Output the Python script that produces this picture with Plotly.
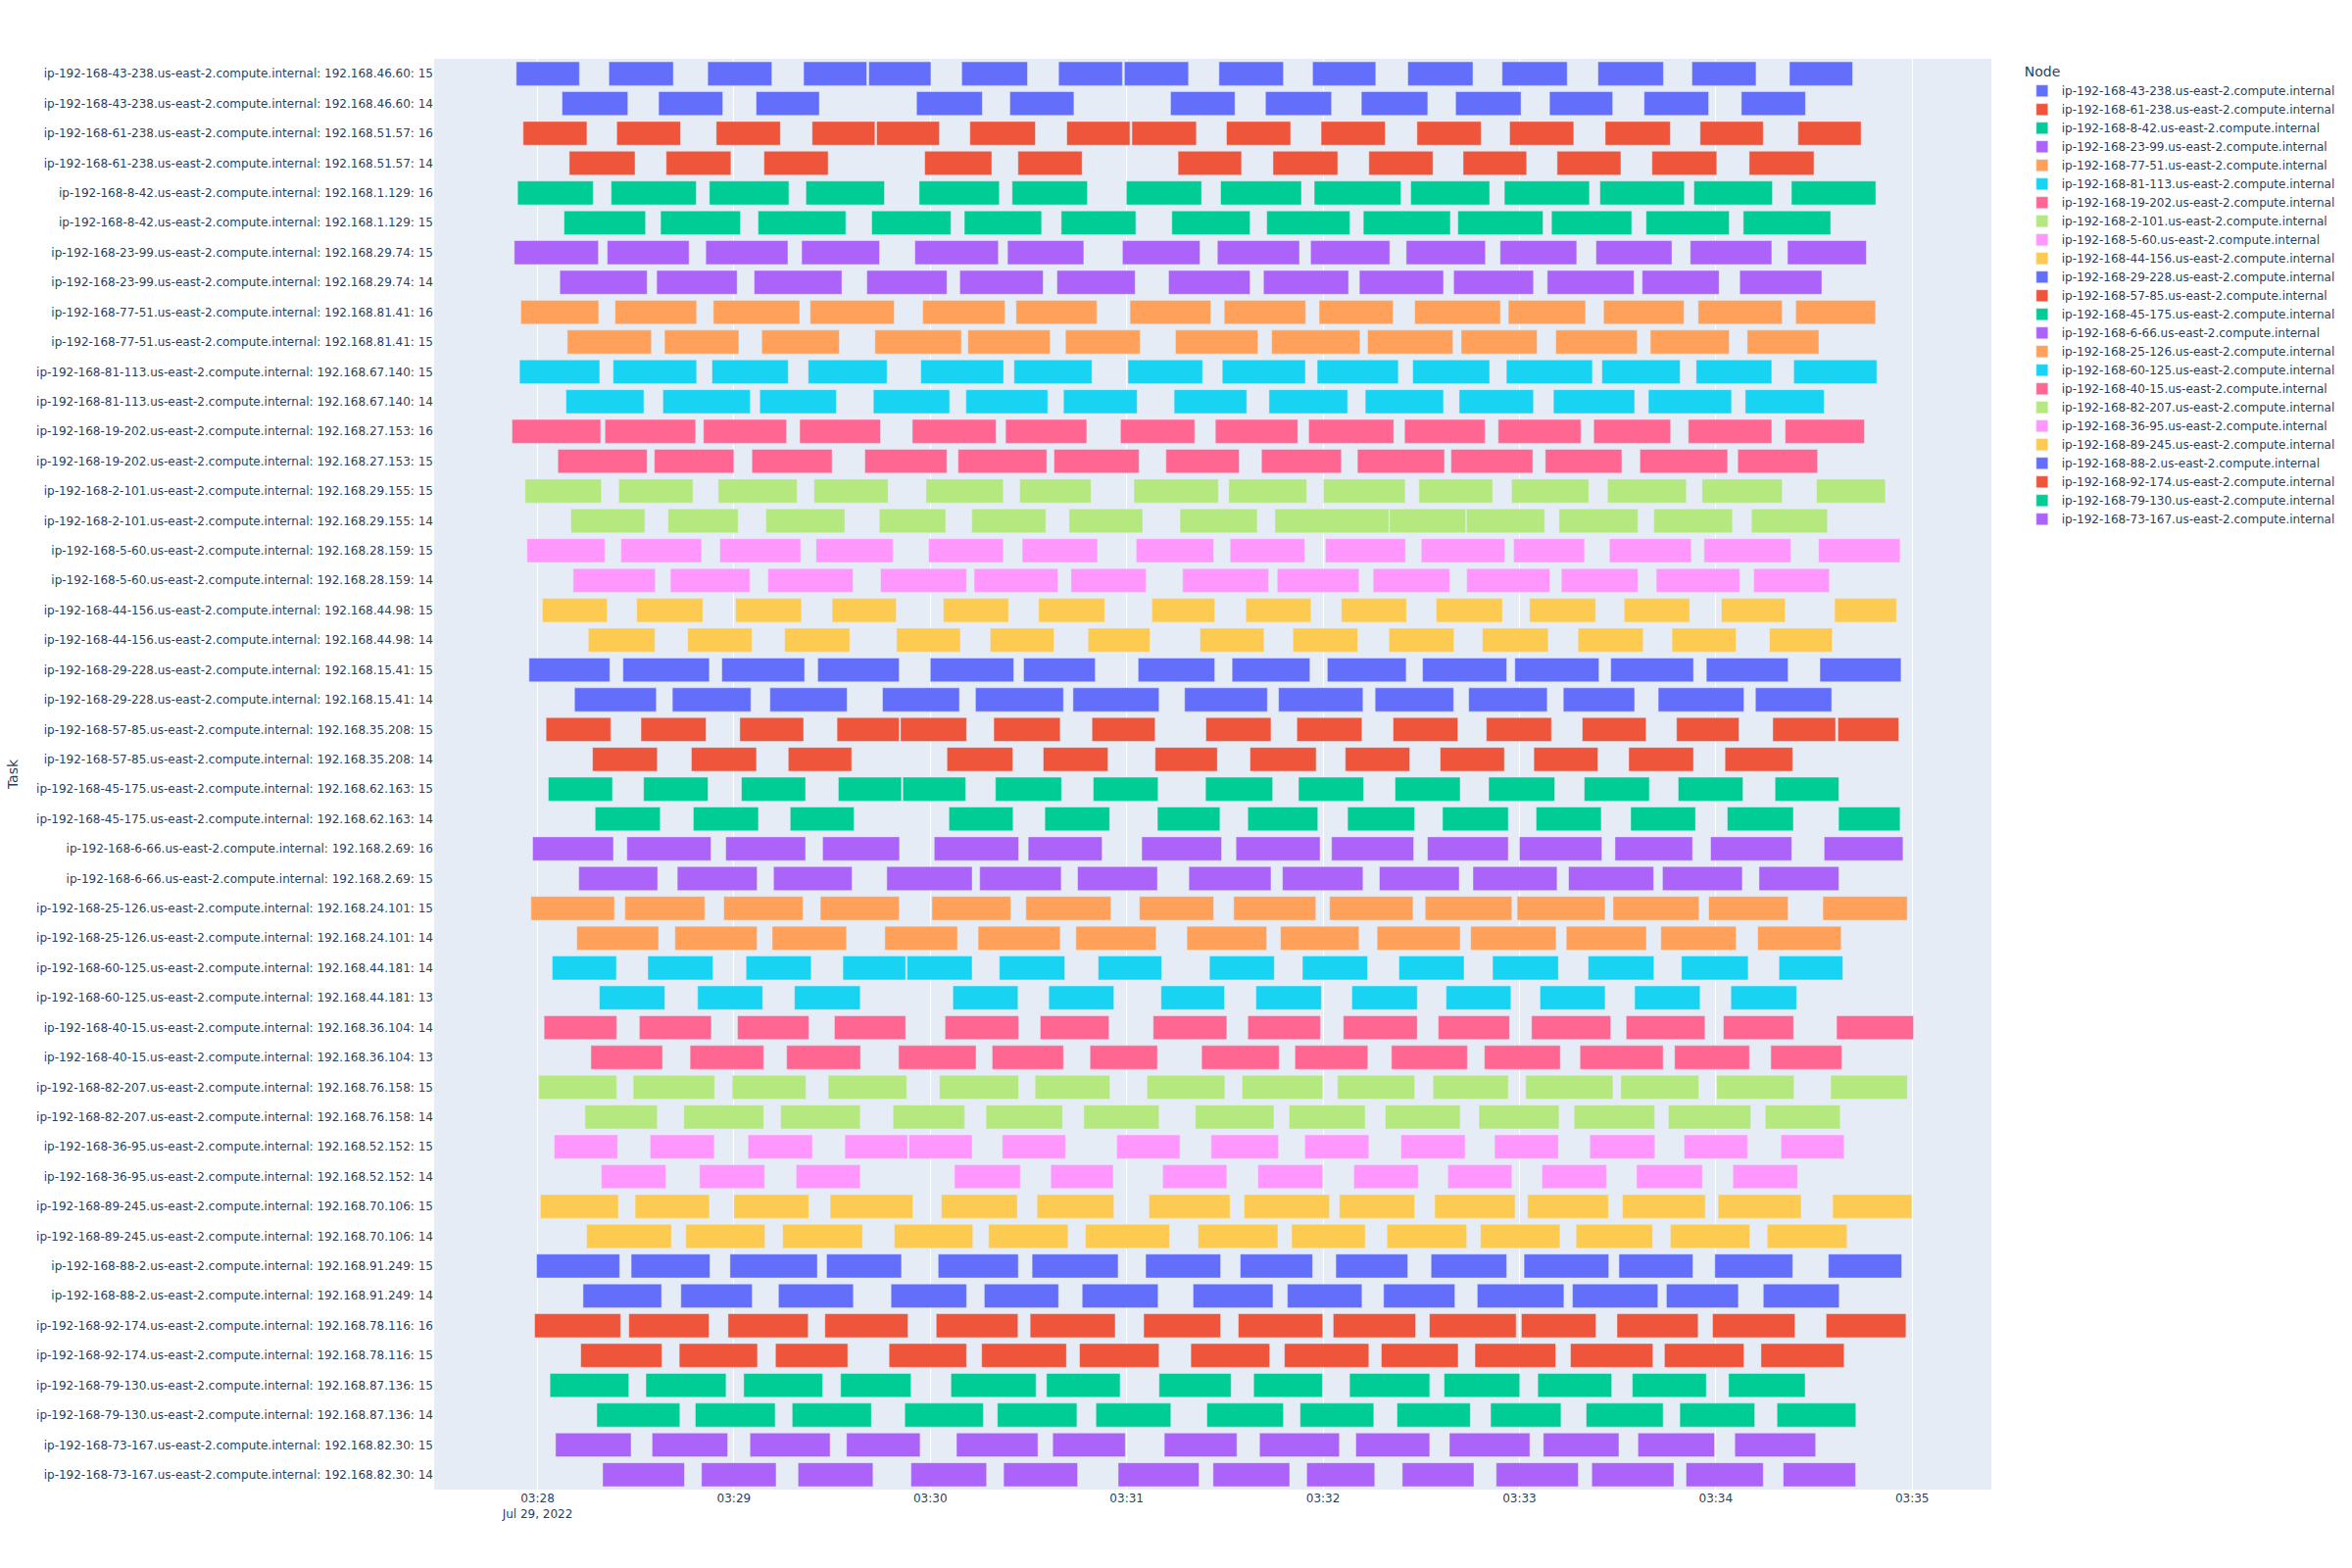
import pandas as pd
import plotly.express as px

BASE_TIME = "2022-07-29 03:28:00"

node_names = [
    "ip-192-168-43-238.us-east-2.compute.internal",
    "ip-192-168-61-238.us-east-2.compute.internal",
    "ip-192-168-8-42.us-east-2.compute.internal",
    "ip-192-168-23-99.us-east-2.compute.internal",
    "ip-192-168-77-51.us-east-2.compute.internal",
    "ip-192-168-81-113.us-east-2.compute.internal",
    "ip-192-168-19-202.us-east-2.compute.internal",
    "ip-192-168-2-101.us-east-2.compute.internal",
    "ip-192-168-5-60.us-east-2.compute.internal",
    "ip-192-168-44-156.us-east-2.compute.internal",
    "ip-192-168-29-228.us-east-2.compute.internal",
    "ip-192-168-57-85.us-east-2.compute.internal",
    "ip-192-168-45-175.us-east-2.compute.internal",
    "ip-192-168-6-66.us-east-2.compute.internal",
    "ip-192-168-25-126.us-east-2.compute.internal",
    "ip-192-168-60-125.us-east-2.compute.internal",
    "ip-192-168-40-15.us-east-2.compute.internal",
    "ip-192-168-82-207.us-east-2.compute.internal",
    "ip-192-168-36-95.us-east-2.compute.internal",
    "ip-192-168-89-245.us-east-2.compute.internal",
    "ip-192-168-88-2.us-east-2.compute.internal",
    "ip-192-168-92-174.us-east-2.compute.internal",
    "ip-192-168-79-130.us-east-2.compute.internal",
    "ip-192-168-73-167.us-east-2.compute.internal",
]
node_ips = [
    "192.168.46.60", "192.168.51.57", "192.168.1.129", "192.168.29.74",
    "192.168.81.41", "192.168.67.140", "192.168.27.153", "192.168.29.155",
    "192.168.28.159", "192.168.44.98", "192.168.15.41", "192.168.35.208",
    "192.168.62.163", "192.168.2.69", "192.168.24.101", "192.168.44.181",
    "192.168.36.104", "192.168.76.158", "192.168.52.152", "192.168.70.106",
    "192.168.91.249", "192.168.78.116", "192.168.87.136", "192.168.82.30",
]
# two worker slots per node (upper row first)
node_slots = [
    (15, 14), (16, 14), (16, 15), (15, 14), (16, 15), (15, 14),
    (16, 15), (15, 14), (15, 14), (15, 14), (15, 14), (15, 14),
    (15, 14), (16, 15), (15, 14), (14, 13), (14, 13), (15, 14),
    (15, 14), (15, 14), (15, 14), (16, 15), (15, 14), (15, 14),
]

# seconds after 03:28:00, one list per task row (top to bottom)
start_sec = [
    [-6.5, 21.8, 52.0, 81.3, 101.2, 129.6, 159.2, 179.3, 208.2, 236.8, 265.9, 294.7, 324.0, 352.7, 382.5],
    [7.5, 37.0, 66.8, 115.8, 144.3, 193.4, 222.4, 251.7, 280.5, 309.2, 338.1, 367.8],
    [-4.4, 24.2, 54.6, 83.9, 103.6, 132.1, 161.7, 181.6, 210.5, 239.4, 268.7, 297.0, 326.2, 355.2, 385.1],
    [9.7, 39.3, 69.2, 118.3, 146.8, 195.7, 224.7, 254.0, 282.8, 311.5, 340.5, 370.2],
    [-6.1, 22.5, 52.5, 82.0, 116.6, 145.0, 179.9, 208.7, 237.3, 266.8, 295.4, 324.6, 353.3, 383.1],
    [8.1, 37.6, 67.4, 102.1, 130.4, 160.0, 193.8, 222.8, 252.3, 281.2, 309.8, 338.7, 368.4],
    [-7.1, 21.3, 51.4, 80.7, 115.3, 143.6, 178.7, 207.7, 236.2, 265.4, 294.1, 323.4, 352.2, 381.9],
    [6.8, 36.4, 66.2, 100.6, 129.0, 158.7, 192.8, 221.8, 251.1, 279.9, 308.5, 337.5, 367.3],
    [-5.1, 23.7, 53.7, 83.3, 117.7, 146.2, 181.0, 209.8, 238.8, 268.0, 296.6, 325.7, 354.6, 384.4],
    [9.1, 38.8, 68.5, 103.1, 131.5, 161.3, 194.9, 224.3, 253.6, 282.2, 311.1, 340.0, 369.6],
    [-5.5, 23.1, 53.3, 82.7, 117.1, 145.6, 180.4, 209.2, 238.2, 267.4, 296.0, 325.2, 354.0, 383.8],
    [8.7, 38.3, 67.9, 102.6, 130.9, 160.7, 194.5, 223.5, 252.9, 281.6, 310.4, 339.4, 369.0],
    [-7.8, 20.6, 50.7, 80.1, 114.5, 143.0, 178.1, 207.1, 235.6, 264.9, 293.5, 322.7, 351.6, 381.2],
    [6.2, 35.7, 65.5, 100.0, 128.5, 157.8, 192.0, 221.2, 250.5, 279.1, 307.9, 336.8, 366.7],
    [-3.8, 24.8, 55.2, 84.5, 118.7, 147.3, 182.2, 211.2, 240.1, 269.3, 297.6, 326.9, 355.8, 390.8],
    [10.2, 39.9, 69.8, 104.4, 132.7, 162.4, 196.3, 225.3, 260.3, 283.8, 312.1, 341.1, 370.9],
    [-3.2, 25.5, 55.7, 85.1, 119.5, 148.1, 182.9, 211.6, 240.7, 270.0, 298.2, 327.5, 356.4, 391.4],
    [10.9, 40.6, 70.4, 104.8, 133.4, 163.0, 197.1, 226.0, 255.3, 283.9, 312.8, 341.8, 371.6],
    [1.5, 30.3, 60.5, 90.0, 124.0, 153.1, 187.7, 216.4, 245.6, 274.6, 303.1, 332.0, 361.7, 396.3],
    [15.5, 45.9, 75.5, 109.7, 138.3, 168.2, 202.4, 230.8, 260.1, 288.7, 317.9, 346.6, 376.4],
    [-2.6, 26.1, 56.3, 85.6, 120.0, 148.5, 183.5, 212.2, 241.3, 270.4, 298.6, 327.9, 357.1, 391.8],
    [11.3, 41.2, 71.0, 105.4, 133.8, 163.6, 197.7, 226.4, 255.9, 284.5, 313.4, 342.4, 372.1],
    [2.6, 31.6, 61.8, 91.5, 110.9, 139.4, 169.4, 204.2, 232.0, 261.4, 289.9, 319.2, 348.0, 377.4, 397.3],
    [16.8, 47.0, 76.6, 125.1, 154.5, 188.7, 217.7, 246.8, 275.8, 304.4, 333.4, 362.8],
    [3.3, 32.4, 62.3, 91.9, 111.6, 139.9, 169.8, 204.1, 232.5, 262.0, 290.6, 319.8, 348.5, 378.1],
    [17.6, 47.6, 77.2, 125.7, 155.0, 189.4, 217.0, 247.5, 276.5, 305.1, 334.0, 363.5, 397.5],
    [-1.5, 27.3, 57.5, 87.1, 121.2, 149.9, 184.6, 213.4, 242.6, 271.9, 300.0, 329.2, 358.4, 393.1],
    [12.6, 42.7, 72.1, 106.7, 135.1, 165.0, 199.0, 227.6, 257.2, 285.8, 315.0, 343.7, 373.2],
    [-2.0, 26.7, 56.9, 86.4, 120.5, 149.2, 183.9, 212.7, 242.0, 271.2, 299.3, 328.6, 357.8, 392.7],
    [12.0, 42.0, 71.7, 106.1, 134.6, 164.5, 198.4, 227.0, 256.5, 285.1, 314.3, 343.2, 372.8],
    [4.5, 33.7, 63.7, 93.3, 112.9, 141.1, 171.3, 205.3, 233.7, 263.2, 291.8, 321.0, 349.5, 379.3],
    [18.9, 48.9, 78.5, 126.9, 156.2, 190.5, 219.5, 248.8, 277.6, 306.3, 335.2, 364.6],
    [2.0, 31.1, 61.1, 90.7, 124.5, 153.6, 188.1, 217.0, 246.2, 275.2, 303.7, 332.6, 362.3, 396.9],
    [16.3, 46.6, 76.1, 110.3, 138.9, 168.8, 202.9, 231.4, 260.9, 289.3, 318.5, 347.4, 376.8],
    [0.4, 29.2, 59.5, 88.8, 122.8, 152.0, 186.2, 215.3, 244.4, 273.6, 301.9, 331.0, 360.3, 395.1],
    [14.5, 44.7, 74.3, 108.6, 137.0, 166.9, 201.0, 229.6, 259.0, 287.6, 316.7, 345.5, 375.1],
    [5.1, 34.4, 64.3, 93.9, 113.5, 142.0, 177.0, 205.8, 234.4, 263.8, 292.4, 321.5, 350.3, 379.9],
    [19.5, 49.5, 79.0, 127.4, 156.8, 191.0, 220.1, 249.4, 278.1, 306.9, 335.8, 365.2],
    [0.9, 29.8, 60.0, 89.4, 123.4, 152.6, 186.8, 215.9, 245.0, 274.1, 302.5, 331.5, 360.7, 395.7],
    [15.0, 45.3, 74.9, 109.0, 137.8, 167.4, 201.8, 230.4, 259.5, 288.1, 317.3, 346.1, 375.7],
    [-0.3, 28.6, 58.8, 88.3, 122.4, 151.1, 185.8, 214.7, 243.9, 273.0, 301.4, 330.4, 359.7, 394.4],
    [13.9, 43.8, 73.6, 108.0, 136.5, 166.4, 200.3, 229.1, 258.5, 287.1, 316.2, 344.9, 374.5],
    [-0.9, 27.9, 58.2, 87.8, 121.8, 150.5, 185.2, 214.1, 243.1, 272.5, 300.6, 329.8, 359.0, 393.7],
    [13.2, 43.3, 72.7, 107.4, 135.7, 165.6, 199.6, 228.2, 257.8, 286.4, 315.6, 344.3, 373.8],
    [3.8, 33.1, 63.0, 92.6, 126.3, 155.5, 189.9, 218.8, 248.1, 277.0, 305.6, 334.5, 363.9],
    [18.1, 48.2, 77.8, 112.2, 140.5, 170.6, 204.5, 233.0, 262.6, 291.2, 320.4, 349.0, 378.7],
    [5.5, 35.0, 64.9, 94.4, 128.0, 157.4, 191.5, 220.6, 250.0, 278.6, 307.3, 336.2, 365.8],
    [19.9, 50.1, 79.6, 114.1, 142.4, 177.4, 206.4, 235.0, 264.2, 292.9, 322.1, 350.9, 380.6],
]
end_sec = [
    [12.8, 41.5, 71.6, 100.6, 120.2, 149.7, 178.7, 198.9, 227.9, 256.1, 285.8, 314.6, 344.0, 372.3, 401.8],
    [27.6, 56.6, 86.1, 135.9, 163.9, 213.1, 242.6, 272.0, 300.5, 328.5, 357.8, 387.4],
    [15.1, 43.7, 74.2, 103.1, 122.8, 152.1, 181.0, 201.3, 230.1, 259.0, 288.3, 316.6, 346.1, 374.5, 404.4],
    [29.8, 59.1, 88.8, 138.8, 166.4, 215.1, 244.5, 273.6, 302.2, 331.0, 360.3, 390.0],
    [17.0, 48.5, 76.8, 106.0, 141.1, 168.0, 202.9, 233.4, 263.8, 290.9, 321.4, 350.4, 377.3, 408.9],
    [33.0, 62.0, 94.2, 126.3, 154.0, 182.8, 217.7, 248.2, 278.9, 307.2, 334.3, 364.1, 395.1],
    [18.6, 46.3, 76.5, 104.5, 140.8, 166.9, 202.4, 232.8, 260.4, 289.6, 317.5, 346.6, 377.1, 406.0],
    [33.5, 61.0, 93.0, 125.1, 154.5, 182.6, 217.7, 247.8, 276.8, 304.3, 335.0, 361.0, 392.4],
    [18.7, 48.6, 80.1, 109.0, 142.8, 170.9, 205.7, 234.7, 261.4, 294.2, 320.2, 350.3, 380.3, 408.8],
    [34.8, 61.5, 92.2, 129.5, 156.6, 184.1, 220.1, 251.3, 279.7, 305.4, 336.0, 364.1, 391.5],
    [19.0, 48.6, 76.6, 106.8, 142.4, 169.4, 203.2, 234.6, 263.0, 290.9, 322.3, 349.1, 377.1, 409.2],
    [32.5, 65.0, 91.3, 125.9, 155.9, 183.2, 216.7, 247.5, 276.8, 304.3, 335.2, 364.8, 393.1],
    [19.3, 48.3, 76.1, 104.8, 140.1, 167.8, 200.8, 232.3, 261.6, 289.5, 318.8, 346.2, 377.1, 405.4],
    [33.5, 60.0, 90.0, 125.1, 155.6, 183.8, 214.4, 245.6, 277.1, 304.1, 331.3, 363.6, 391.1],
    [19.5, 47.5, 79.3, 107.1, 142.3, 169.1, 208.0, 235.0, 265.1, 291.8, 321.2, 351.0, 380.3, 411.8],
    [32.8, 61.3, 93.9, 124.7, 155.3, 184.9, 219.9, 260.1, 283.6, 307.7, 336.2, 365.1, 394.1],
    [20.6, 50.1, 80.4, 108.6, 142.3, 171.1, 206.6, 234.4, 265.2, 295.5, 319.9, 352.5, 382.9, 416.3],
    [36.0, 64.9, 96.4, 131.1, 159.0, 185.9, 223.4, 251.0, 278.7, 309.3, 336.2, 367.3, 394.7],
    [21.3, 50.5, 80.6, 109.6, 143.9, 173.3, 206.9, 236.3, 265.5, 294.8, 323.3, 352.0, 381.2, 415.2],
    [35.9, 65.5, 95.4, 129.2, 157.8, 187.1, 222.0, 250.6, 280.0, 308.8, 337.8, 366.2, 395.6],
    [22.1, 52.5, 81.6, 110.5, 145.5, 170.4, 206.9, 236.0, 265.4, 296.1, 324.3, 353.2, 382.1, 416.6],
    [36.3, 65.2, 94.6, 128.9, 160.7, 189.9, 223.0, 252.2, 279.9, 308.5, 335.2, 368.6, 395.4],
    [22.4, 51.5, 81.3, 110.5, 131.1, 159.7, 188.7, 224.1, 251.9, 281.2, 309.8, 338.7, 367.1, 396.6, 415.9],
    [36.6, 66.9, 96.0, 145.2, 174.3, 207.7, 237.9, 266.5, 295.4, 324.0, 353.2, 383.5],
    [22.9, 52.1, 81.9, 111.2, 130.8, 160.1, 189.6, 224.6, 252.4, 281.9, 310.8, 339.7, 368.3, 397.6],
    [37.5, 67.5, 96.7, 145.3, 174.8, 208.5, 238.4, 268.0, 296.6, 325.0, 353.8, 383.7, 416.3],
    [23.2, 53.0, 81.9, 110.6, 147.0, 172.5, 209.0, 239.1, 267.7, 296.6, 325.2, 352.9, 383.2, 417.2],
    [36.7, 67.1, 96.1, 132.8, 160.0, 189.4, 224.1, 252.2, 281.6, 311.5, 341.0, 368.1, 397.6],
    [23.5, 51.1, 81.1, 110.5, 144.6, 175.2, 206.6, 237.8, 267.5, 297.7, 326.2, 354.9, 382.1, 418.5],
    [37.0, 67.1, 94.4, 128.3, 159.7, 189.0, 222.8, 251.0, 281.9, 311.2, 338.8, 366.2, 398.3],
    [24.1, 53.6, 83.6, 112.5, 132.8, 161.1, 190.7, 225.1, 253.6, 283.1, 311.9, 341.1, 369.9, 398.8],
    [38.9, 68.8, 98.6, 146.8, 176.1, 209.9, 239.5, 268.8, 297.4, 326.2, 355.2, 384.7],
    [24.2, 53.1, 82.9, 112.5, 147.0, 174.6, 210.6, 239.2, 268.8, 297.0, 327.9, 356.7, 383.8, 420.4],
    [38.2, 69.1, 98.7, 134.0, 160.7, 189.4, 226.6, 253.7, 284.1, 312.5, 343.9, 370.3, 398.5],
    [24.2, 54.1, 82.0, 112.8, 147.0, 174.9, 210.0, 239.9, 268.0, 296.6, 328.6, 354.8, 383.9, 418.5],
    [36.6, 69.1, 98.6, 130.5, 160.4, 189.9, 225.0, 252.9, 281.9, 312.1, 341.3, 370.7, 398.0],
    [24.5, 54.0, 84.0, 113.1, 132.8, 161.3, 196.3, 226.4, 254.0, 283.4, 311.9, 341.4, 369.7, 399.2],
    [39.2, 69.4, 98.6, 147.5, 175.9, 210.6, 239.9, 269.1, 297.7, 326.6, 355.9, 385.0],
    [24.7, 52.5, 82.9, 114.7, 146.6, 176.1, 211.6, 242.0, 268.0, 298.7, 327.2, 356.8, 386.1, 419.9],
    [40.9, 69.5, 99.3, 133.0, 162.1, 193.1, 226.2, 252.9, 283.9, 312.4, 340.7, 370.4, 400.1],
    [25.1, 52.7, 85.5, 111.2, 146.9, 177.4, 208.7, 236.8, 265.9, 296.1, 327.3, 353.0, 383.5, 416.8],
    [37.9, 65.6, 96.5, 131.1, 159.2, 189.6, 224.7, 251.9, 280.3, 313.6, 342.3, 366.9, 397.7],
    [25.4, 52.4, 82.7, 113.2, 146.8, 176.5, 208.7, 239.9, 268.3, 299.0, 323.4, 354.6, 384.2, 418.1],
    [38.0, 67.2, 94.8, 131.1, 161.6, 189.9, 223.7, 254.0, 281.3, 311.1, 340.8, 368.6, 399.2],
    [27.9, 57.6, 87.1, 114.1, 152.3, 178.0, 211.9, 239.8, 272.6, 300.1, 328.2, 357.1, 387.3],
    [43.5, 72.6, 102.0, 136.2, 164.8, 193.5, 227.9, 255.5, 285.0, 312.7, 343.9, 371.9, 402.8],
    [28.6, 58.1, 89.4, 116.9, 152.9, 179.6, 213.7, 245.0, 272.6, 303.2, 330.4, 359.6, 390.5],
    [44.9, 72.9, 102.5, 137.2, 165.0, 202.1, 229.8, 255.8, 286.1, 318.0, 347.2, 374.5, 402.7],
]

# task labels and owning node, top row first
task_labels = []
task_nodes = []
for name, ip, slots in zip(node_names, node_ips, node_slots):
    for s in slots:
        task_labels.append(f"{name}: {ip}: {s}")
        task_nodes.append(name)

base = pd.Timestamp(BASE_TIME)
records = []
for label, node, starts, ends in zip(task_labels, task_nodes, start_sec, end_sec):
    for s, e in zip(starts, ends):
        records.append({
            "Task": label,
            "Start": base + pd.to_timedelta(s, unit="s"),
            "Finish": base + pd.to_timedelta(e, unit="s"),
            "Node": node,
        })
df = pd.DataFrame(records)

fig = px.timeline(df, x_start="Start", x_end="Finish", y="Task", color="Node")
fig.update_yaxes(categoryorder="array", categoryarray=task_labels, autorange="reversed")
fig.update_xaxes(title_text="")
fig.update_layout(width=2400, height=1600, font_family="DejaVu Sans")
fig.write_html("out.html")
